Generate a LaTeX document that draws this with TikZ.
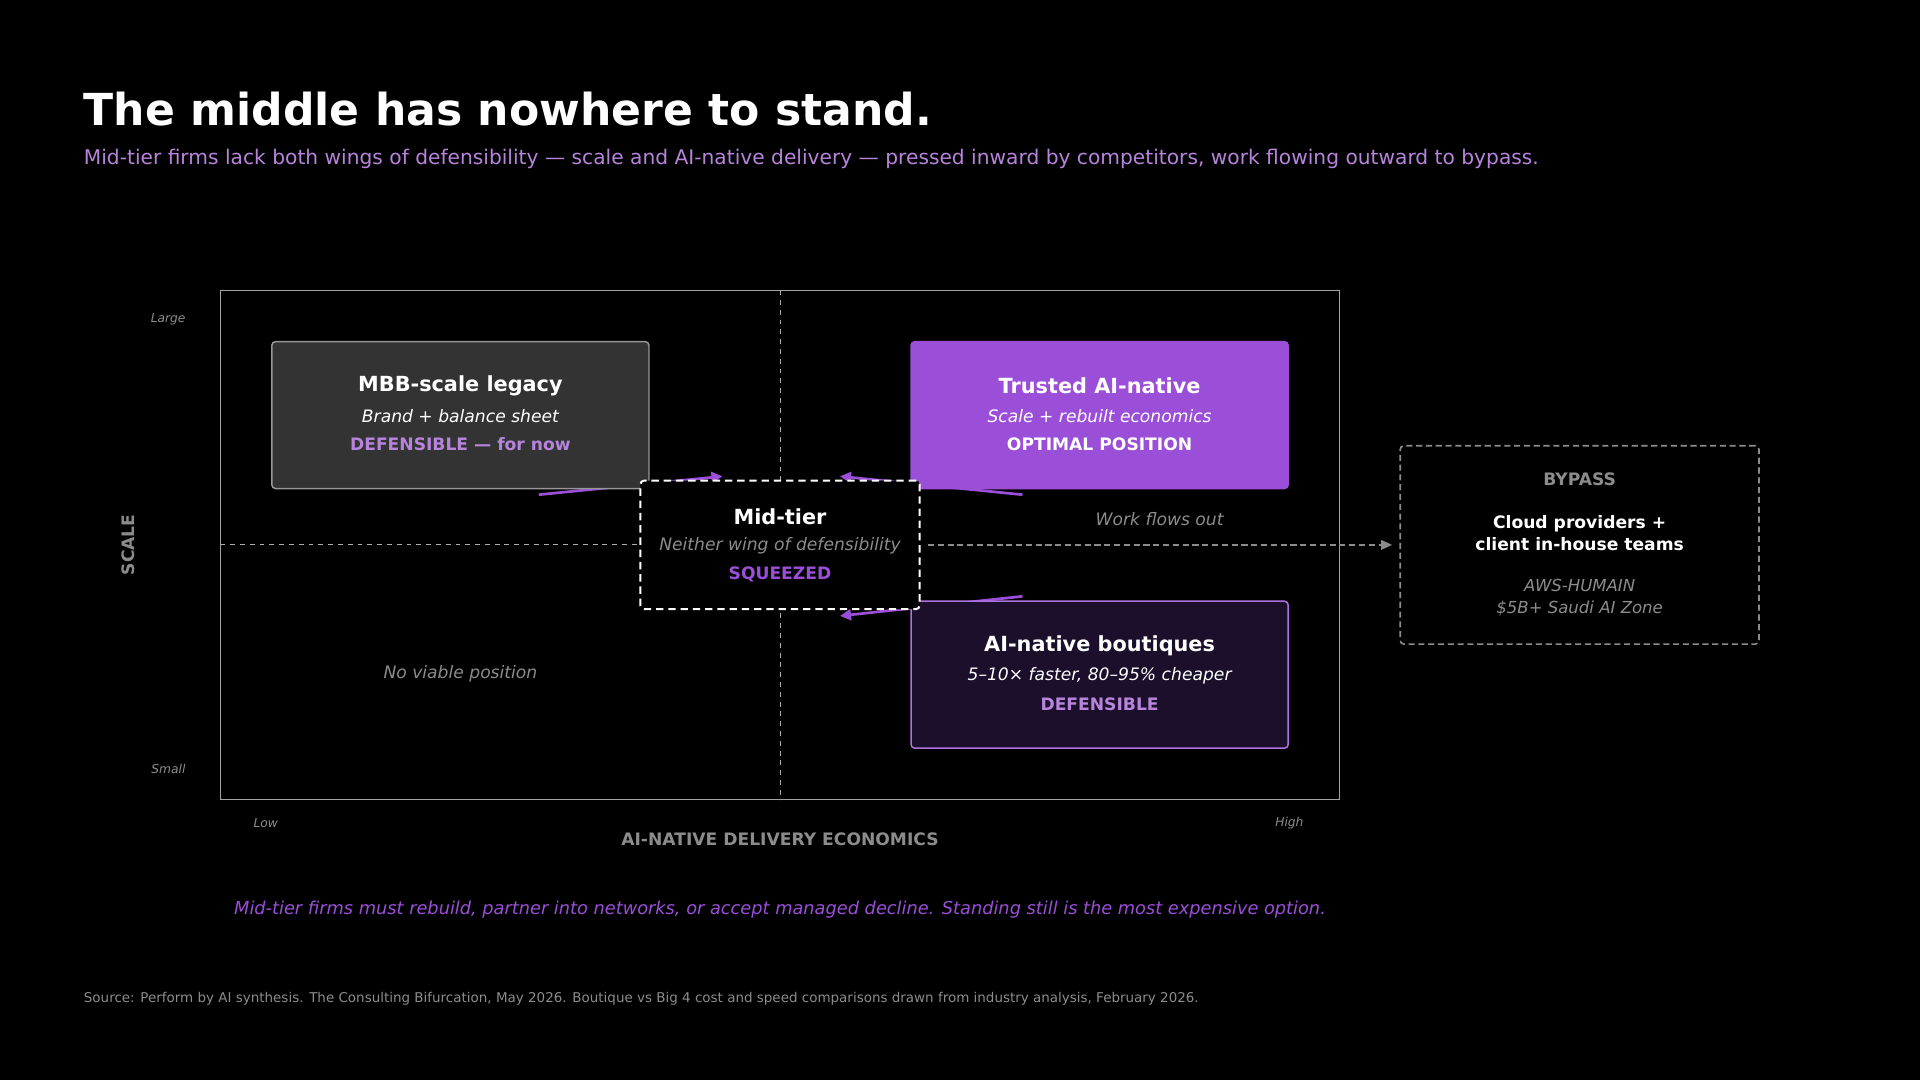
\documentclass[tikz,border=0pt]{standalone}
\usepackage{fontspec}
\setmainfont{DejaVu Sans}
\usetikzlibrary{arrows.meta}
\definecolor{purp}{HTML}{9B4FD9}
\definecolor{lpurp}{HTML}{B784DC}
\definecolor{gry}{HTML}{8C8C8C}
\definecolor{dgry}{HTML}{333333}
\definecolor{dpurp}{HTML}{1C0F2B}
\tikzset{
 fs/.style={font=\fontsize{#1}{#1}\selectfont},
 quad/.style={rounded corners=3pt, minimum width=308pt, minimum height=120pt, line width=1.2pt},
 pusharrow/.style={draw=purp, line width=2.2pt, -{Triangle[length=9pt,width=9pt]}},
 tl/.style={align=center, inner sep=0pt}
}
\begin{document}
\begin{tikzpicture}[x=1pt,y=-1pt]
\fill[black] (0,0) rectangle (1568,882);
\useasboundingbox (0,0) rectangle (1568,882);
\node[anchor=west, text=white, fs=36, font=\bfseries\fontsize{36}{36}\selectfont] (title) at (65,89) {The middle has nowhere to stand.};
\node[anchor=west, text=lpurp, fs=16.5] (sub) at (65,130) {Mid-tier firms lack both wings of defensibility — scale and AI-native delivery — pressed inward by competitors, work flowing outward to bypass.};
% frame
\draw[gry!80, line width=1pt] (180,237) rectangle (1094,653);
\draw[gry!70, dashed, dash pattern=on 4pt off 4pt, line width=0.8pt] (637,237) -- (637,653);
\draw[gry!70, dashed, dash pattern=on 4pt off 4pt, line width=0.8pt] (180,445) -- (523,445);
% axes labels
\node[anchor=east, text=gry, fs=13.5, font=\itshape] (lg) at (155,261) {Large};
\node[anchor=east, text=gry, fs=13.5, font=\itshape] (sm) at (155,628) {Small};
\node[text=gry, fs=13.5, font=\itshape] (lo) at (217,672) {Low};
\node[text=gry, fs=13.5, font=\itshape] (hi) at (1053,672) {High};
\node[text=gry, font=\bfseries\fontsize{14}{14}\selectfont] (xl) at (637,685) {AI-NATIVE DELIVERY ECONOMICS};
\node[text=gry, font=\bfseries\fontsize{14}{14}\selectfont, rotate=90] (yl) at (105,445) {SCALE};
% arrows (under boxes)
\coordinate (a1s) at (440,404); \coordinate (a1e) at (590,389);
\coordinate (a2s) at (835,404); \coordinate (a2e) at (686,389);
\coordinate (a3s) at (835,487); \coordinate (a3e) at (686,503);
\draw[pusharrow] (a1s) -- (a1e);
\draw[pusharrow] (a2s) -- (a2e);
\draw[pusharrow] (a3s) -- (a3e);
% quadrants
\node[quad, draw=gry!90, fill=dgry] (mbb) at (376,339) {};
\node[tl, text=white, font=\bfseries\fontsize{17}{17}\selectfont] (mbbt) at (376,315) {MBB-scale legacy};
\node[tl, text=white, font=\itshape\fontsize{14}{14}\selectfont] (mbbs) at (376,340) {Brand + balance sheet};
\node[tl, text=lpurp, font=\bfseries\fontsize{14}{14}\selectfont] (mbbd) at (376,363) {DEFENSIBLE — for now};
\node[quad, draw=purp, fill=purp] (tai) at (898,339) {};
\node[tl, text=white, font=\bfseries\fontsize{17}{17}\selectfont] (tait) at (898,315) {Trusted AI-native};
\node[tl, text=white, font=\itshape\fontsize{14}{14}\selectfont] (tais) at (898,340) {Scale + rebuilt economics};
\node[tl, text=white, font=\bfseries\fontsize{14}{14}\selectfont] (taid) at (898,363) {OPTIMAL POSITION};
\node[quad, draw=purp!80, fill=dpurp] (bq) at (898,551) {};
\node[tl, text=white, font=\bfseries\fontsize{17}{17}\selectfont] (bqt) at (898,527) {AI-native boutiques};
\node[tl, text=white, font=\itshape\fontsize{14}{14}\selectfont] (bqs) at (898,552) {5–10× faster, 80–95\% cheaper};
\node[tl, text=lpurp, font=\bfseries\fontsize{14}{14}\selectfont] (bqd) at (898,575) {DEFENSIBLE};
\node[text=gry, font=\itshape\fontsize{14}{14}\selectfont] (nv) at (376,550) {No viable position};
% mid tier
\node[draw=white, dashed, dash pattern=on 6pt off 4pt, line width=1.6pt, fill=black, rounded corners=3pt, minimum width=228pt, minimum height=105pt] (mid) at (637,445) {};
\node[tl, text=white, font=\bfseries\fontsize{17}{17}\selectfont] (midt) at (637,422) {Mid-tier};
\node[tl, text=gry, font=\itshape\fontsize{14}{14}\selectfont] (mids) at (637,446) {Neither wing of defensibility};
\node[tl, text=purp, font=\bfseries\fontsize{14}{14}\selectfont] (midd) at (637,469) {SQUEEZED};
% bypass
\node[draw=gry, dashed, dash pattern=on 5pt off 3pt, line width=1.3pt, rounded corners=3pt, minimum width=293pt, minimum height=162pt] (byp) at (1290,445) {};
\node[tl, text=gry, font=\bfseries\fontsize{14}{14}\selectfont] (bypt) at (1290,391) {BYPASS};
\node[tl, text=white, font=\bfseries\fontsize{14}{14}\selectfont] (byps) at (1290,435) {Cloud providers +\\[4pt]client in-house teams};
\node[tl, text=gry, font=\itshape\fontsize{13.5}{13.5}\selectfont] (bypd) at (1290,488) {AWS-HUMAIN\\[5pt]\$5B+ Saudi AI Zone};
\draw[gry, dashed, dash pattern=on 5pt off 3pt, line width=1pt, -{Triangle[length=9pt,width=8pt]}] ([xshift=6pt]mid.east) -- ([xshift=-6pt]byp.west);
\node[text=gry, font=\itshape\fontsize{14}{14}\selectfont] (wf) at (947,424) {Work flows out};
% bottom
\node[text=purp, font=\itshape\fontsize{14.5}{14.5}\selectfont] (conc) at (637,743) {Mid-tier firms must rebuild, partner into networks, or accept managed decline. Standing still is the most expensive option.};
\node[anchor=west, text=gry, fs=11] (src) at (65,816) {Source: Perform by AI synthesis. The Consulting Bifurcation, May 2026. Boutique vs Big 4 cost and speed comparisons drawn from industry analysis, February 2026.};
\end{tikzpicture}
\end{document}
